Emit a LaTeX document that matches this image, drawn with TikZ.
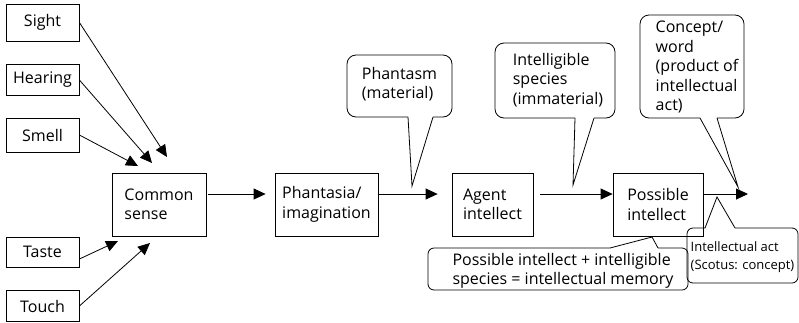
\documentclass[tikz,border=0pt]{standalone}
\usepackage{fontspec}
\setmainfont{Open Sans}
\usetikzlibrary{arrows.meta,calc}
\begin{document}
\begin{tikzpicture}[x=1pt,y=-1pt,
  box/.style={draw, line width=0.8pt, align=left, inner sep=0pt, font=\fontsize{16}{19.5}\selectfont},
  lbl/.style={align=left, inner sep=0pt, font=\fontsize{16}{19.5}\selectfont},
  smalllbl/.style={align=left, inner sep=0pt, font=\fontsize{13}{18}\selectfont},
  arr/.style={line width=0.8pt, -{Triangle[length=12pt,width=11pt]}},
  co/.style={line width=0.8pt, rounded corners=9pt},
  cosmall/.style={line width=0.8pt, rounded corners=6pt},
  ptr/.style={line width=0.8pt, line join=miter}]
\useasboundingbox (0,0) rectangle (799,322);

% sense boxes
\node[box, minimum width=73pt, minimum height=37pt] (sight) at (42.5,22.5) {Sight};
\node[box, minimum width=73pt, minimum height=31pt] (hearing) at (42.5,80) {Hearing};
\node[box, minimum width=73pt, minimum height=34pt] (smell) at (42.5,135) {Smell};
\node[box, minimum width=73pt, minimum height=30pt] (taste) at (42.5,252) {Taste};
\node[box, minimum width=73pt, minimum height=31pt] (touch) at (42.5,306) {Touch};

% main chain
\node[box, minimum width=94pt, minimum height=63pt] (cs) at (159,204.5) {Common\\sense};
\node[box, minimum width=103pt, minimum height=63pt] (ph) at (326.5,204.5) {Phantasia/\\imagination};
\node[box, minimum width=81pt, minimum height=63pt] (ag) at (492.5,204.5) {Agent\\intellect};
\node[box, minimum width=90pt, minimum height=63pt] (po) at (658,204.5) {Possible\\intellect};

% sense arrows
\coordinate (t1) at (167,157);
\coordinate (t2) at (152,163);
\coordinate (t3) at (138,166);
\coordinate (t4) at (118,241);
\coordinate (t5) at (150,243);
\draw[arr] (sight.east) -- (t1);
\draw[arr] (hearing.east) -- (t2);
\draw[arr] (smell.east) -- (t3);
\draw[arr] ($(taste.east)+(0,7)$) -- (t4);
\draw[arr] (touch.east) -- (t5);

% chain arrows
\coordinate (ay) at (0,194);
\coordinate (actend) at (748,194);
\draw[arr, shorten <=2pt, shorten >=9pt] (cs.east |- ay) -- (ph.west |- ay);
\draw[arr, shorten >=14pt] (ph.east |- ay) -- (ag.west |- ay);
\draw[arr, shorten <=7pt] (ag.east |- ay) -- (po.west |- ay);
\draw[arr] (po.east |- ay) -- (actend);

% callout texts
\node[lbl] (phm) at (399.5,84) {Phantasm\\(material)};
\node[lbl] (isp) at (558,80) {Intelligible\\species\\(immaterial)};
\node[lbl] (cpt) at (697,67) {Concept/\\word\\(product of\\intellectual\\act)};
\node[lbl] (mem) at (563,271) {Possible intellect + intelligible\\species = intellectual memory};
\node[smalllbl] (act) at (742.5,257) {Intellectual act\\(Scotus: concept)};

% callout outlines
\draw[co] (433,117) -- (452,117) -- (452,55) -- (347,55) -- (347,117) -- (408,117);
\draw[ptr] (408,117) -- (412,186) -- (433,117);

\draw[co] (594,118) -- (615,118) -- (615,43) -- (495,43) -- (495,118) -- (575,118);
\draw[ptr] (575,118) -- (573,185) -- (594,118);

\draw[co] (717,118) -- (744,118) -- (744,15) -- (640,15) -- (640,118) -- (700,118);
\draw[ptr] (700,118) -- (738,187) -- (717,118);

\draw[cosmall] (658,248) -- (688,248) -- (688,290) -- (428,290) -- (428,248) -- (610,248);
\draw[ptr] (610,248) -- (652,237) -- (658,248);

\draw[cosmall] (735,228) -- (798,228) -- (798,283) -- (687,283) -- (687,228) -- (705,228);
\draw[ptr] (705,228) -- (717,197) -- (735,228);
\end{tikzpicture}
\end{document}
